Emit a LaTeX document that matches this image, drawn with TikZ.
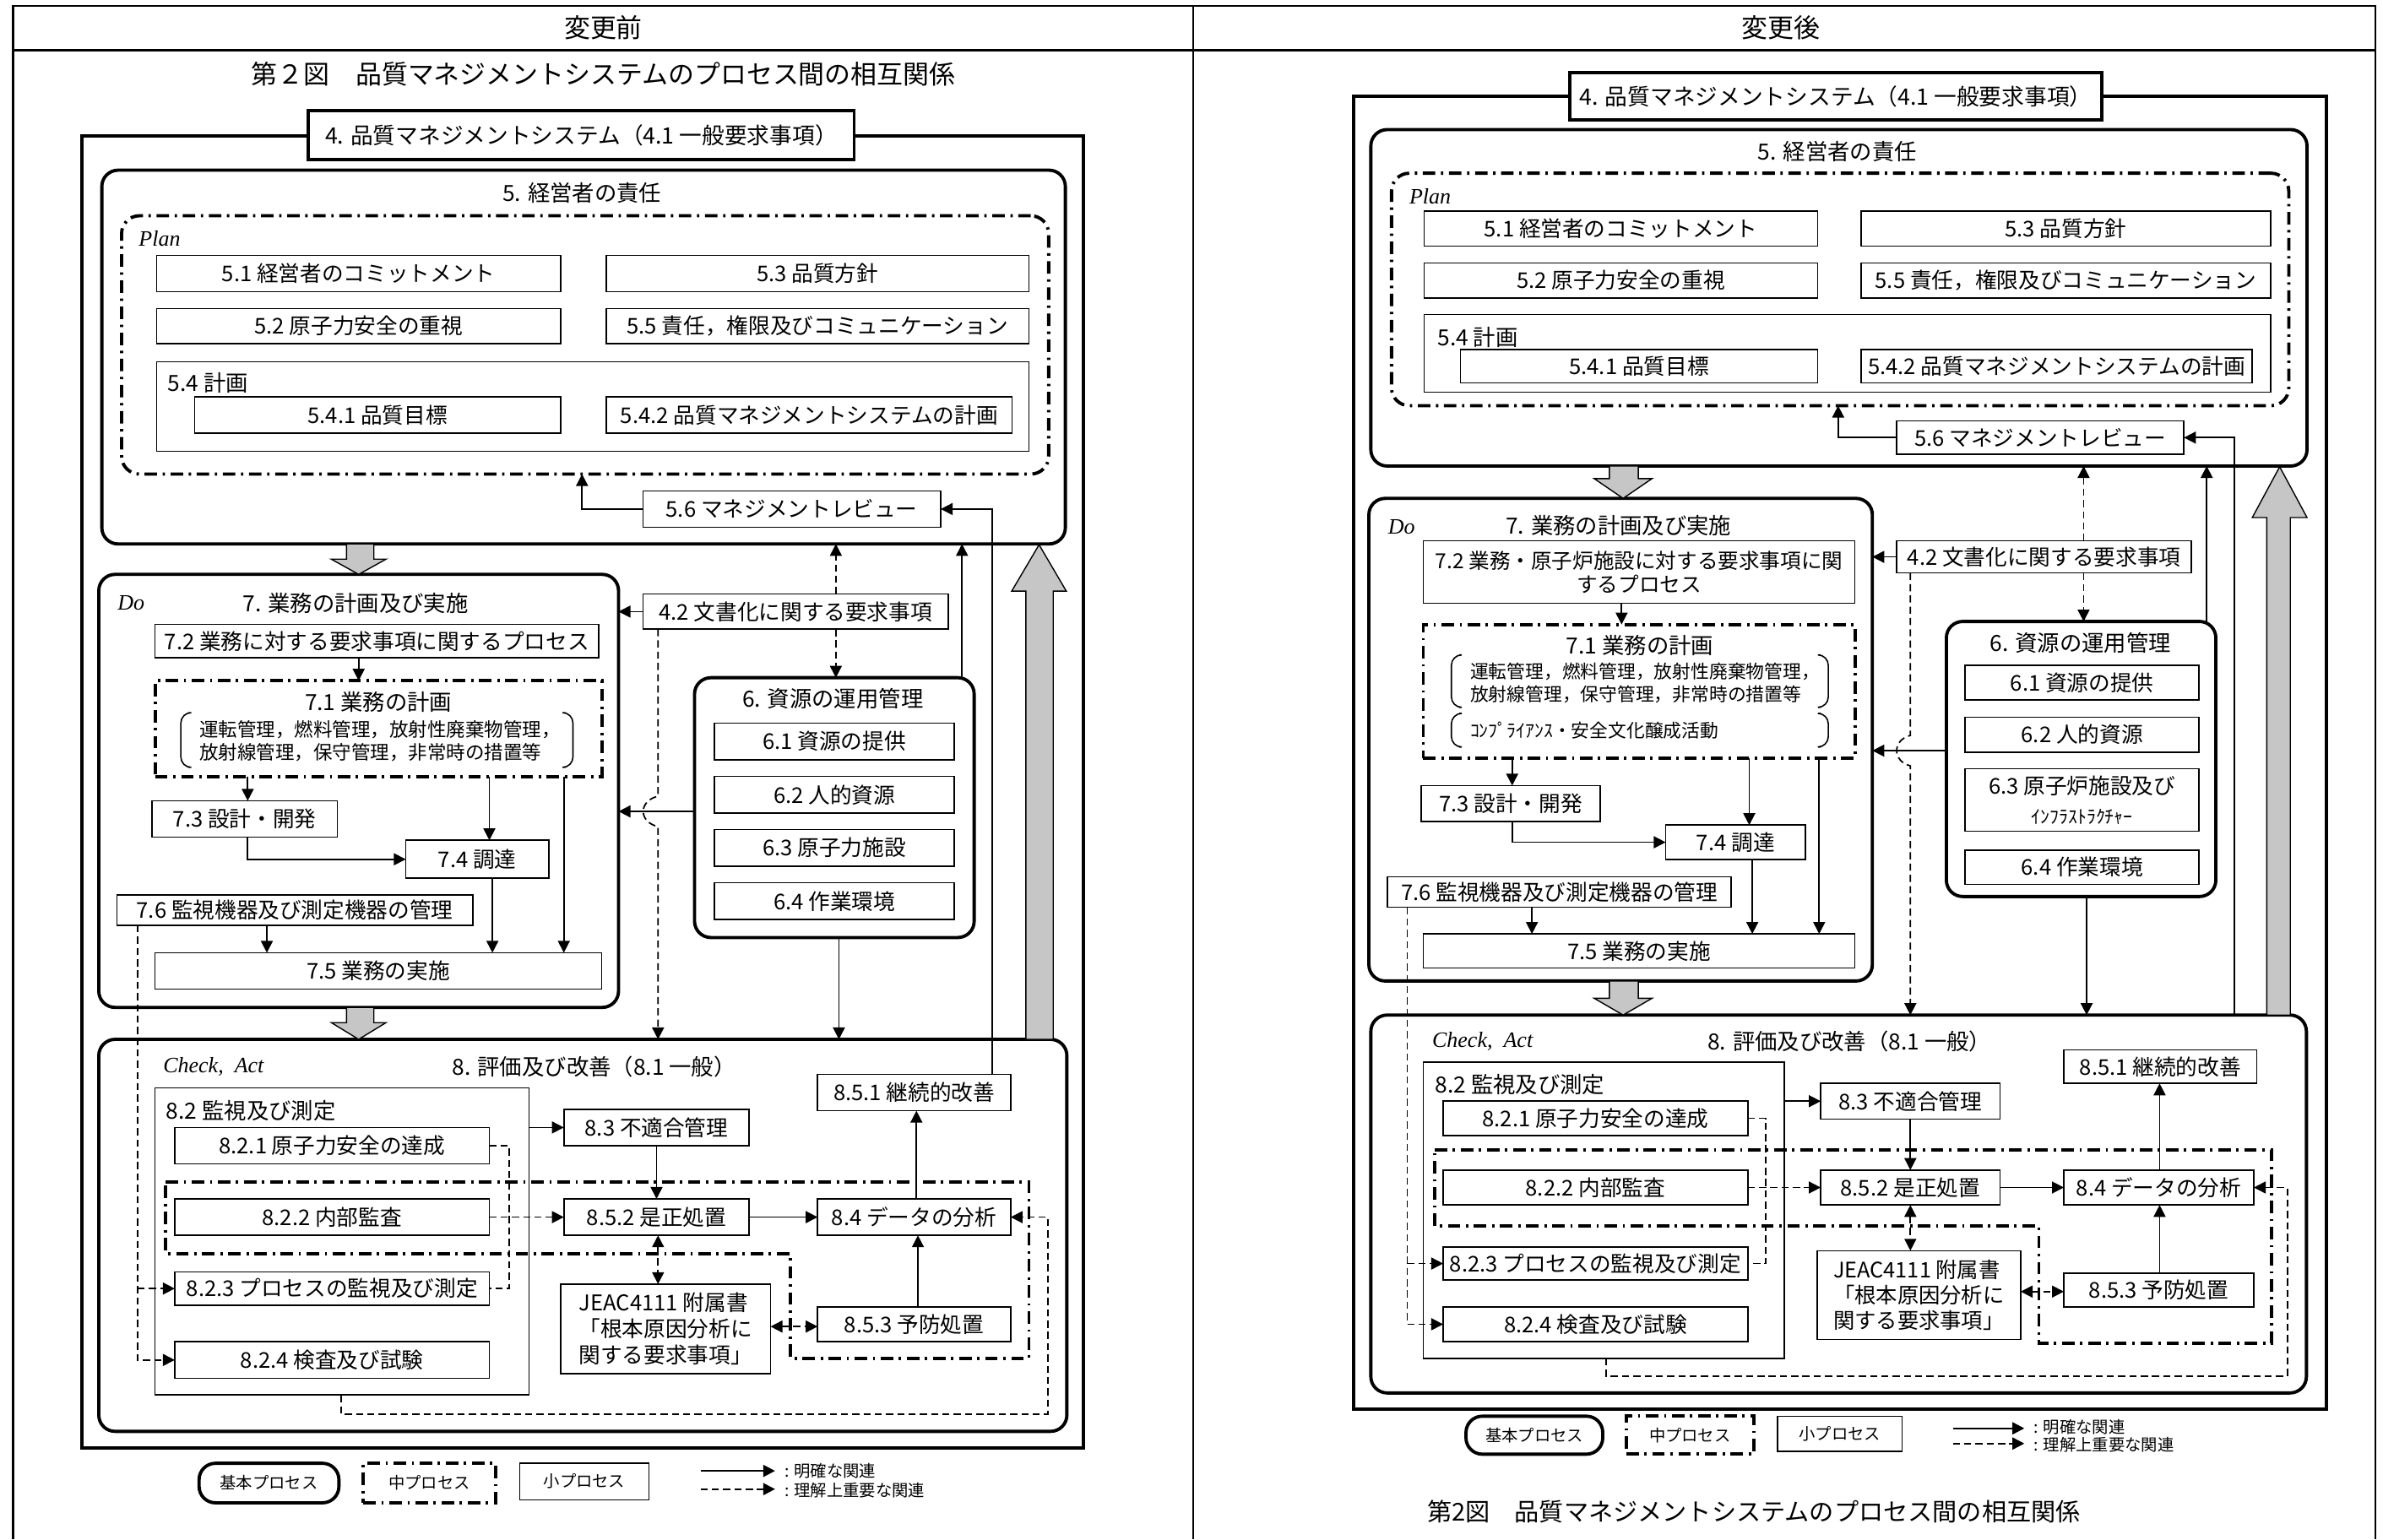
\documentclass[tikz,border=0pt]{standalone}
\usepackage{fontspec}
\setmainfont{Noto Sans CJK JP}
\newfontfamily\latin{Liberation Serif}
\usetikzlibrary{arrows.meta}
\newcommand\fs{\fontsize{7.3}{8.4}\selectfont}
\newcommand\fst{\fontsize{7.5}{8.6}\selectfont}
\newcommand\fsq{\fontsize{7.6}{8.8}\selectfont}
\newcommand\fsb{\fontsize{6.4}{7.2}\selectfont}
\newcommand\fsbr{\fontsize{6.2}{7}\selectfont}
\newcommand\fsl{\fontsize{5.5}{6.5}\selectfont}
\newcommand\fsh{\fontsize{8.8}{10}\selectfont}
\newcommand\bx[7][]{\node[sbox,#1,minimum width={(#5-#3)*0.18mm},minimum height={(#6-#4)*0.18mm}] (#2) at ({(#3+#5)/2},{(#4+#6)/2}) {#7};}
\newcommand\brk[4]{%
 \draw[line width=0.45pt, rounded corners=3.5pt] (#1+5,#2) -- (#1,#2) -- (#1,#4) -- (#1+5,#4);
 \draw[line width=0.45pt, rounded corners=3.5pt] (#3-5,#2) -- (#3,#2) -- (#3,#4) -- (#3-5,#4);}
\tikzset{
 sbox/.style={draw, line width=0.45pt, inner sep=1pt, outer sep=0pt, font=\fs, fill=white},
 bbox/.style={draw, line width=1.1pt, rounded corners=5.5pt, fill=none, inner sep=0pt},
 obox/.style={draw, line width=1.1pt, fill=none, inner sep=0pt},
 lab/.style={line width=1.1pt, font=\fsq},
 mbox/.style={draw, line width=1.1pt, fill=none, dash pattern=on 4.2pt off 1.9pt on 0.8pt off 1.9pt},
 mline/.style={line width=1.1pt, dash pattern=on 4.2pt off 1.9pt on 0.8pt off 1.9pt},
 arr/.style={line width=0.5pt, -{Triangle[length=4pt,width=4pt]}},
 dl/.style={line width=0.5pt, dash pattern=on 2.4pt off 1.4pt},
 darr/.style={dl, -{Triangle[length=4pt,width=4pt]}},
 ddarr/.style={dl, {Triangle[length=4pt,width=4pt]}-{Triangle[length=4pt,width=4pt]}},
 grey/.style={fill=gray!45, draw=black, line width=0.4pt},
 ttl/.style={font=\fst, inner sep=0pt},
 ital/.style={font={\fontsize{7.4}{8}\selectfont\latin\itshape}, inner sep=0pt, anchor=west},
 lg/.style={font=\fsl, inner sep=0pt, anchor=west},
}
\begin{document}
\begin{tikzpicture}[x=0.18mm,y=-0.18mm]
\useasboundingbox (0,0) rectangle (1568,1013);
% ---------------- table frame
\draw[line width=0.7pt] (8.7,1013) -- (8.7,4) -- (1563,4) -- (1563,1013);
\draw[line width=0.7pt] (785,4) -- (785,1013);
\draw[line width=0.7pt] (8.7,33) -- (1563,33);
\node[font=\fsh] (hL) at (397,18) {変更前};
\node[font=\fsh] (hR) at (1172,18) {変更後};
\node[font=\fsh] (capL) at (397,49) {第２図　品質マネジメントシステムのプロセス間の相互関係};
\node[font={\fontsize{8.3}{10}\selectfont}] (capR) at (1154,995) {第2図　品質マネジメントシステムのプロセス間の相互関係};

% =============== LEFT PANEL =================
\bx[obox]{Lo}{54}{89.5}{713}{953}{}
\bx[lab]{L4}{203}{73}{562}{105}{4. 品質マネジメントシステム（4.1 一般要求事項）}
\bx[bbox]{L5}{67}{112}{701}{358}{}
\node[ttl] (tL5) at (383,127) {5. 経営者の責任};
\bx[mbox, rounded corners=6pt]{Lplan}{80}{142}{690}{312}{}
\node[ital] (tLplan) at (91,157) {Plan};
\bx{L51}{103}{168}{369}{192}{5.1 経営者のコミットメント}
\bx{L53}{399}{168}{677}{192}{5.3 品質方針}
\bx{L52}{103}{203}{369}{226}{5.2 原子力安全の重視}
\bx{L55}{399}{203}{677}{226}{5.5 責任，権限及びコミュニケーション}
\bx{L54}{103}{238}{677}{297}{}
\node[ttl, anchor=west] (tL54) at (110,252) {5.4 計画};
\bx{L541}{128}{261}{369}{285}{5.4.1 品質目標}
\bx{L542}{399}{261}{666}{285}{5.4.2 品質マネジメントシステムの計画}
\bx{L56}{423}{323}{619}{347}{5.6 マネジメントレビュー}

% section 7
\bx[bbox]{L7}{65}{378}{407}{663}{}
\node[ital] (tLdo) at (77,397) {Do};
\node[ttl] (tL7) at (234,397) {7. 業務の計画及び実施};
\bx{L72}{102}{411}{394}{433}{7.2 業務に対する要求事項に関するプロセス}
\bx[mbox]{L71}{102}{448}{396}{511}{}
\node[ttl] (tL71) at (249,462) {7.1 業務の計画};
\brk{119}{469}{377}{505}
\node[font=\fsb, inner sep=0pt, anchor=west] (tL71a) at (131,480) {運転管理，燃料管理，放射性廃棄物管理，};
\node[font=\fsb, inner sep=0pt, anchor=west] (tL71b) at (131,495) {放射線管理，保守管理，非常時の措置等};
\bx{L73}{100}{527}{222}{551}{7.3 設計・開発}
\bx{L74}{267}{553}{361}{578}{7.4 調達}
\bx{L76}{77}{589}{311}{609}{7.6 監視機器及び測定機器の管理}
\bx{L75}{102}{627}{396}{651}{7.5 業務の実施}
\bx{L42}{423}{391}{624}{414}{4.2 文書化に関する要求事項}

% section 6
\bx[bbox]{L6}{457}{446}{641}{617}{}
\node[ttl] (tL6) at (548,460) {6. 資源の運用管理};
\bx{L61}{470}{476}{628}{500}{6.1 資源の提供}
\bx{L62}{470}{511}{628}{535}{6.2 人的資源}
\bx{L63}{470}{546}{628}{570}{6.3 原子力施設}
\bx{L64}{470}{581}{628}{605}{6.4 作業環境}

% section 8
\bx[bbox]{L8}{65}{684}{702}{942}{}
\node[ital] (tLca) at (107,702) {Check,\ \ Act};
\node[ttl] (tL8) at (391,702) {8. 評価及び改善（8.1 一般）};
\bx{L851}{538}{707}{665}{731}{8.5.1 継続的改善}
\bx[fill=none]{L82}{102}{716}{348}{918}{}
\node[ttl, anchor=west] (tL82) at (109,731) {8.2 監視及び測定};
\bx{L821}{115}{742}{322}{766}{8.2.1 原子力安全の達成}
\bx{L83}{371}{730}{493}{754}{8.3 不適合管理}
\draw[mline] (109,778) -- (677,778) -- (677,894) -- (520,894) -- (520,825) -- (109,825) -- cycle;
\bx{L822}{115}{789}{322}{813}{8.2.2 内部監査}
\bx{L852}{371}{789}{493}{813}{8.5.2 是正処置}
\bx{L84}{538}{789}{665}{813}{8.4 データの分析}
\bx{L823}{115}{837}{322}{859}{8.2.3 プロセスの監視及び測定}
\bx{L824}{115}{883}{322}{907}{8.2.4 検査及び試験}
\bx[align=left, font={\fontsize{7.3}{8.7}\selectfont}, inner sep=3pt]{LJ}{369}{848}{507}{901}{JEAC4111 附属書\\「根本原因分析に\\関する要求事項」}
\bx{L853}{538}{860}{665}{883}{8.5.3 予防処置}

% connectors left
\draw[arr] (L56.west) -| (Lplan.south -| 383,0);
\draw[arr] (L851.north -| 653,0) |- (L56.east);
\draw[darr] (L42.north -| 550,0) -- (L5.south -| 550,0);
\draw[darr] (L42.south -| 550,0) -- (L6.north -| 550,0);
\draw[arr] (L6.north -| 633,0) -- (L5.south -| 633,0);
\draw[arr] (L42.west) -- (L42.west -| L7.east);
\draw[arr] (L72.south -| 236,0) -- (L71.north -| 236,0);
\draw[arr] (L71.south -| 163,0) -- (L73.north -| 163,0);
\draw[arr] (L71.south -| 322,0) -- (L74.north -| 322,0);
\draw[arr] (L71.south -| 371,0) -- (L75.north -| 371,0);
\draw[arr] (L73.south -| 163,0) |- (L74.west);
\draw[arr] (L76.south -| 175.6,0) -- (L75.north -| 175.6,0);
\draw[arr] (L74.south -| 324,0) -- (L75.north -| 324,0);
\draw[arr] (L6.west |- 0,534) -- (L7.east |- 0,534);
\draw[arr] (L6.south -| 552,0) -- (L8.north -| 552,0);
\draw[darr] (L42.south -| 433,0) -- (433,524) .. controls (420,527) and (420,541) .. (433,544) -- (L8.north -| 433,0);
\draw[arr] (L82.east |- 0,742) -- (L83.west |- 0,742);
\draw[arr] (L83.south) -- (L852.north);
\draw[arr] (L852.east) -- (L84.west);
\draw[arr] (L84.north -| 603,0) -- (L851.south -| 603,0);
\draw[darr] (L822.east) -- (L852.west);
\draw[arr] (L853.north -| 604,0) -- (L84.south -| 604,0);
\draw[ddarr] (L852.south -| 433,0) -- (LJ.north -| 433,0);
\draw[ddarr] (LJ.east |- 0,873) -- (L853.west |- 0,873);
\draw[dl] (L821.east) -- ++(13,0) |- (L823.east);
\draw[darr] (L82.south -| 224.5,0) |- (689.5,930.5) |- (L84.east);
\coordinate (Lbr) at (L823.west -| 90.6,0);
\draw[darr] (L76.south -| 90.6,0) |- (L824.west);
\draw[darr] (Lbr) -- (L823.west);
% grey arrows left
\draw[grey] (228,358) -- (246,358) -- (246,368) -- (254,368) -- (236,378) -- (218,368) -- (228,368) -- cycle;
\draw[grey] (228,663) -- (246,663) -- (246,673) -- (254,673) -- (236,684) -- (218,673) -- (228,673) -- cycle;
\draw[grey] (675,684) -- (675,389) -- (665.7,389) -- (683.7,358.5) -- (701.6,389) -- (693,389) -- (693,684) -- cycle;

% legend left
\bx[bbox, font=\fsl]{LgA}{131}{963}{223}{989}{基本プロセス}
\bx[mbox, font=\fsl]{LgB}{239}{963}{326}{989}{中プロセス}
\bx[font=\fsl]{LgC}{342}{963}{427}{987}{小プロセス}
\coordinate (LgS1) at (461,968); \coordinate (LgS2) at (510,968);
\coordinate (LgD1) at (461,980); \coordinate (LgD2) at (510,980);
\draw[arr, line width=0.7pt] (LgS1) -- (LgS2);
\draw[darr, line width=0.7pt] (LgD1) -- (LgD2);
\node[lg] (LgT1) at (516,968) {: 明確な関連};
\node[lg] (LgT2) at (516,981) {: 理解上重要な関連};

% =============== RIGHT PANEL =================
\bx[obox]{Ro}{890.6}{63.3}{1530.6}{927.5}{}
\bx[lab]{R4}{1033}{48}{1383}{79}{4. 品質マネジメントシステム（4.1 一般要求事項）}
\bx[bbox]{R5}{902}{85.3}{1518}{306.7}{}
\node[ttl] (tR5) at (1209,100) {5. 経営者の責任};
\bx[mbox, rounded corners=6pt]{Rplan}{915.6}{114}{1506}{267}{}
\node[ital] (tRplan) at (927,129.5) {Plan};
\bx{R51}{937}{139}{1196}{162}{5.1 経営者のコミットメント}
\bx{R53}{1224.6}{139}{1494}{162}{5.3 品質方針}
\bx{R52}{937}{173}{1196}{196}{5.2 原子力安全の重視}
\bx{R55}{1224.6}{173}{1494}{196}{5.5 責任，権限及びコミュニケーション}
\bx{R54}{937}{207}{1494}{258}{}
\node[ttl, anchor=west] (tR54) at (945.5,222) {5.4 計画};
\bx{R541}{961}{230}{1196}{252}{5.4.1 品質目標}
\bx{R542}{1224.6}{230}{1482}{252}{5.4.2 品質マネジメントシステムの計画}
\bx{R56}{1248}{277}{1437}{299}{5.6 マネジメントレビュー}

% section 7 right
\bx[bbox]{R7}{900.7}{328}{1232}{645.6}{}
\node[ital] (tRdo) at (913,347) {Do};
\node[ttl] (tR7) at (1065,346) {7. 業務の計画及び実施};
\bx[align=center, font={\fontsize{7.0}{8.0}\selectfont}]{R72}{936.5}{356}{1220.5}{397}{7.2 業務・原子炉施設に対する要求事項に関\\するプロセス}
\bx{R42}{1248}{356}{1442}{377}{4.2 文書化に関する要求事項}
\bx[mbox]{R71}{936.5}{411}{1220.5}{499}{}
\node[ttl] (tR71) at (1079,425) {7.1 業務の計画};
\brk{955}{431}{1203}{465.5}
\brk{955}{469.5}{1203}{491.6}
\node[font=\fsbr, inner sep=0pt, anchor=west] (tR71a) at (967,442) {運転管理，燃料管理，放射性廃棄物管理，};
\node[font=\fsbr, inner sep=0pt, anchor=west] (tR71b) at (967,457) {放射線管理，保守管理，非常時の措置等};
\node[font=\fsbr, inner sep=0pt, anchor=west] (tR71c) at (967,481) {ｺﾝﾌﾟﾗｲｱﾝｽ・安全文化醸成活動};
\bx{R73}{935}{517}{1053}{540.5}{7.3 設計・開発}
\bx{R74}{1096}{543}{1188}{565.6}{7.4 調達}
\bx{R76}{913}{577}{1139}{597}{7.6 監視機器及び測定機器の管理}
\bx{R75}{936.5}{614.6}{1220.5}{637}{7.5 業務の実施}

% section 6 right
\bx[bbox]{R6}{1280.7}{409}{1458}{590}{}
\node[ttl] (tR6) at (1369,423) {6. 資源の運用管理};
\bx{R61}{1293}{438}{1447}{460.6}{6.1 資源の提供}
\bx{R62}{1293}{472}{1447}{495}{6.2 人的資源}
\bx[align=center]{R63}{1293}{505.8}{1447}{547}{6.3 原子炉施設及び\\[1.5pt]{\fontsize{6.2}{7}\selectfont ｲﾝﾌﾗｽﾄﾗｸﾁｬｰ}}
\bx{R64}{1293}{559.5}{1447}{582}{6.4 作業環境}

% section 8 right
\bx[bbox]{R8}{902}{668}{1517.6}{916.7}{}
\node[ital] (tRca) at (942,685.6) {Check,\ \ Act};
\node[ttl] (tR8) at (1217,685.6) {8. 評価及び改善（8.1 一般）};
\bx{R851}{1358}{691}{1485}{713}{8.5.1 継続的改善}
\bx[fill=none]{R82}{936.5}{699}{1174}{894}{}
\node[ttl, anchor=west] (tR82) at (944,714) {8.2 監視及び測定};
\bx{R821}{949.6}{724.7}{1150}{747.3}{8.2.1 原子力安全の達成}
\bx{R83}{1198}{713}{1316}{736.4}{8.3 不適合管理}
\draw[mline] (944,756.6) -- (1494.6,756.6) -- (1494.6,884) -- (1341.6,884) -- (1341.6,807) -- (944,807) -- cycle;
\bx{R822}{949.6}{770}{1150}{793}{8.2.2 内部監査}
\bx{R852}{1198}{770}{1316}{793}{8.5.2 是正処置}
\bx{R84}{1358}{770}{1483}{793}{8.4 データの分析}
\bx{R823}{949.6}{820.6}{1150}{842.5}{8.2.3 プロセスの監視及び測定}
\bx{R824}{949.6}{860}{1150}{883}{8.2.4 検査及び試験}
\bx[align=left, font={\fontsize{7.2}{8.6}\selectfont}, inner sep=3pt]{RJ}{1195.6}{826.7}{1329.6}{877.8}{JEAC4111 附属書\\「根本原因分析に\\関する要求事項」}
\bx{R853}{1358}{837.8}{1483}{860}{8.5.3 予防処置}

% connectors right
\draw[arr] (R56.west) -| (Rplan.south -| 1209.5,0);
\draw[arr] (R8.north -| 1470,0) |- (R56.east);
\draw[darr] (R42.north -| 1371,0) -- (R5.south -| 1371,0);
\draw[darr] (R42.south -| 1371,0) -- (R6.north -| 1371,0);
\draw[arr] (R6.north -| 1452,0) -- (R5.south -| 1452,0);
\draw[arr] (R42.west) -- (R42.west -| R7.east);
\draw[arr] (R72.south -| 1067,0) -- (R71.north -| 1067,0);
\draw[arr] (R71.south -| 995,0) -- (R73.north -| 995,0);
\draw[arr] (R71.south -| 1151,0) -- (R74.north -| 1151,0);
\draw[arr] (R71.south -| 1197,0) -- (R75.north -| 1197,0);
\draw[arr] (R73.south -| 995,0) |- (R74.west);
\draw[arr] (R76.south -| 1008,0) -- (R75.north -| 1008,0);
\draw[arr] (R74.south -| 1153,0) -- (R75.north -| 1153,0);
\draw[arr] (R6.west |- 0,494) -- (R7.east |- 0,494);
\draw[arr] (R6.south -| 1373,0) -- (R8.north -| 1373,0);
\draw[darr] (R42.south -| 1257,0) -- (1257,484) .. controls (1245,487) and (1245,501) .. (1257,504) -- (R8.north -| 1257,0);
\draw[arr] (R82.east |- 0,724.7) -- (R83.west |- 0,724.7);
\draw[arr] (R83.south) -- (R852.north);
\draw[arr] (R852.east) -- (R84.west);
\draw[arr] (R84.north -| 1421,0) -- (R851.south -| 1421,0);
\draw[darr] (R822.east) -- (R852.west);
\draw[arr] (R853.north -| 1421,0) -- (R84.south -| 1421,0);
\draw[ddarr] (R852.south -| 1257,0) -- (RJ.north -| 1257,0);
\draw[ddarr] (RJ.east |- 0,850) -- (R853.west |- 0,850);
\draw[dl] (R821.east) -- ++(12,0) |- (R823.east);
\draw[darr] (R82.south -| 1056.6,0) |- (1505,905.6) |- (R84.east);
\coordinate (Rbr) at (R823.west -| 926,0);
\draw[darr] (R76.south -| 926,0) |- (R824.west);
\draw[darr] (Rbr) -- (R823.west);
% grey arrows right
\draw[grey] (1059,306.7) -- (1078,306.7) -- (1078,315) -- (1087,315) -- (1068,328) -- (1049,315) -- (1059,315) -- cycle;
\draw[grey] (1059,645.6) -- (1078,645.6) -- (1078,657) -- (1087,657) -- (1068,668) -- (1049,657) -- (1059,657) -- cycle;
\draw[grey] (1491.5,668) -- (1491.5,340.6) -- (1482,340.6) -- (1500,307.2) -- (1518,340.6) -- (1507,340.6) -- (1507,668) -- cycle;

% legend right
\bx[bbox, font=\fsl]{RgA}{964.6}{932}{1054.6}{957}{基本プロセス}
\bx[mbox, font=\fsl]{RgB}{1070}{932}{1154}{957}{中プロセス}
\bx[font=\fsl]{RgC}{1169.5}{932}{1251.6}{955}{小プロセス}
\coordinate (RgS1) at (1285,940); \coordinate (RgS2) at (1332,940);
\coordinate (RgD1) at (1285,950); \coordinate (RgD2) at (1332,950);
\draw[arr, line width=0.7pt] (RgS1) -- (RgS2);
\draw[darr, line width=0.7pt] (RgD1) -- (RgD2);
\node[lg] (RgT1) at (1338,939) {: 明確な関連};
\node[lg] (RgT2) at (1338,951) {: 理解上重要な関連};
\end{tikzpicture}
\end{document}
